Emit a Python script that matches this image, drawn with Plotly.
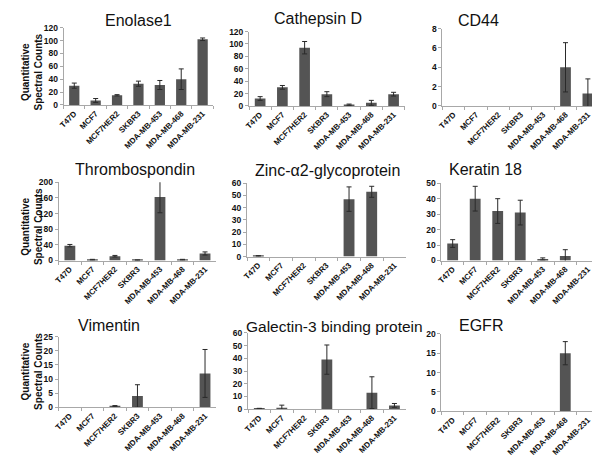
"""Spectral count bar panels for nine proteins across breast cancer cell lines."""

import plotly.graph_objects as go
from plotly.subplots import make_subplots

W, H = 600, 461

cell_lines = ["T47D", "MCF7", "MCF7HER2", "SKBR3", "MDA-MB-453", "MDA-MB-468", "MDA-MB-231"]

proteins = [
    "Enolase1", "Cathepsin D", "CD44",
    "Thrombospondin", "Zinc-α2-glycoprotein", "Keratin 18",
    "Vimentin", "Galectin-3 binding protein", "EGFR",
]

enolase1 = [30, 7, 15, 33, 31, 40, 102]
enolase1_err = [4, 3, 1, 4, 7, 16, 2]
cathepsin_d = [12, 30, 94, 19, 2, 5, 19]
cathepsin_d_err = [3, 3, 10, 4, 1, 4, 3]
cd44 = [0, 0, 0, 0, 0, 4, 1.3]
cd44_err = [None, None, None, None, None, 2.55, 1.5]
thrombospondin = [38, 2, 11, 1, 162, 2, 18]
thrombospondin_err = [3, 1, 2, 0.5, 40, 1, 4]
zinc_a2 = [0.5, 0, 0, 0, 47, 53, 0]
zinc_a2_err = [0.3, None, None, None, 10, 4.5, None]
keratin18 = [11, 40, 32, 31, 1, 3, 0]
keratin18_err = [2.5, 8, 8, 8, 0.7, 4, None]
vimentin = [0, 0, 0.4, 4, 0, 0, 12]
vimentin_err = [None, None, 0.2, 4, None, None, 8.5]
galectin3bp = [0.5, 1.2, 0, 39, 0, 13, 3]
galectin3bp_err = [0.2, 2, None, 11.5, None, 12.5, 1.5]
egfr = [0, 0, 0, 0, 0, 15, 0]
egfr_err = [None, None, None, None, None, 3, None]

values = [enolase1, cathepsin_d, cd44, thrombospondin, zinc_a2, keratin18,
          vimentin, galectin3bp, egfr]
errors = [enolase1_err, cathepsin_d_err, cd44_err, thrombospondin_err, zinc_a2_err,
          keratin18_err, vimentin_err, galectin3bp_err, egfr_err]
y_max = [120, 120, 8, 200, 60, 50, 25, 60, 20]
y_step = [20, 20, 2, 40, 10, 10, 5, 10, 5]

# panel boxes in pixels: (x0, x1, y_top, y_bottom)
boxes = [
    (51, 202, 15, 94), (238, 395, 19, 95), (433, 591, 16, 95),
    (46, 205, 173, 253), (236, 396, 174, 249), (432, 591, 174, 253),
    (46, 205, 331, 403), (237, 396, 327, 405), (432, 591, 328, 407),
]
# title centres in pixels
title_pos = [
    (127, 8), (308, 6), (469, 8),
    (123, 160), (317, 161), (476, 160),
    (97, 319), (324, 320), (472, 319),
]
ylab_rows = [60, 218, 366]

BAR = "#545454"
AXIS = "#a8a8a8"
TXT = "#111111"

fig = make_subplots(rows=3, cols=3)

for i, (vals, errs) in enumerate(zip(values, errors)):
    r, c = i // 3 + 1, i % 3 + 1
    # zero counts leave no mark at all, as in the original figure
    shown = [v if v else None for v in vals]
    fig.add_trace(go.Bar(
        x=cell_lines, y=shown,
        marker=dict(color=BAR, line=dict(width=0)),
        error_y=dict(type="data", array=errs, visible=True,
                     color="#2a2a2a", thickness=1, width=2.5),
        showlegend=False,
    ), row=r, col=c)

    x0, x1, yt, yb = boxes[i]
    n = "" if i == 0 else str(i + 1)
    fig.layout[f"xaxis{n}"].update(
        domain=[x0 / W, x1 / W],
        type="category", categoryarray=cell_lines,
        showline=True, linecolor=AXIS, linewidth=1,
        ticks="outside", tickson="boundaries", ticklen=3, tickcolor=AXIS,
        tickangle=-45,
        tickfont=dict(family="Arial", size=8, color=TXT, weight="bold"),
        showgrid=False, zeroline=False,
    )
    fig.layout[f"yaxis{n}"].update(
        domain=[1 - yb / H, 1 - yt / H],
        range=[0, y_max[i]], dtick=y_step[i], tick0=0,
        showline=True, linecolor=AXIS, linewidth=1,
        ticks="outside", ticklen=3, tickcolor=AXIS,
        tickfont=dict(family="Arial", size=8.5, color=TXT, weight="bold"),
        showgrid=False, zeroline=False,
    )

    tx, ty = title_pos[i]
    fig.add_annotation(
        x=tx / W, y=1 - ty / H, xref="paper", yref="paper",
        text=proteins[i], showarrow=False,
        font=dict(family="Arial", size=16 if i != 7 else 15.5, color="#111"),
        xanchor="center", yanchor="middle",
    )

for yc in ylab_rows:
    fig.add_annotation(
        x=19 / W, y=1 - yc / H, xref="paper", yref="paper",
        text="<b>Quantitative<br>Spectral Counts</b>", showarrow=False,
        textangle=-90, font=dict(family="Arial", size=10, color=TXT),
        xanchor="center", yanchor="middle",
    )

fig.update_layout(
    width=W, height=H,
    margin=dict(l=0, r=0, t=0, b=0),
    plot_bgcolor="white", paper_bgcolor="white",
    bargap=0.52,
    font=dict(family="Arial", color=TXT),
)

fig.write_html("out.html")
